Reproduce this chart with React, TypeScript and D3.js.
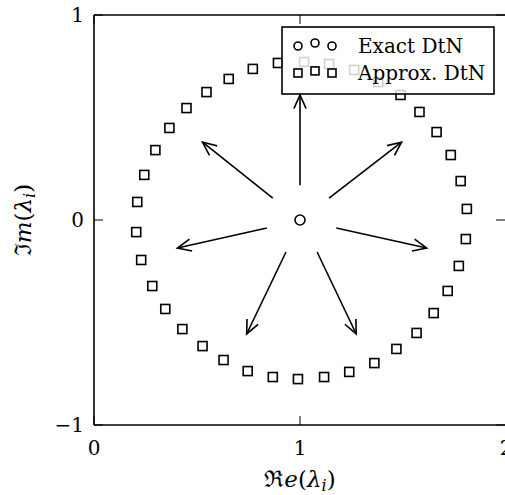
import React from "react";
import * as d3 from "d3";

const approxRe = [0.893, 0.771, 0.654, 0.546, 0.449, 0.366, 0.298, 0.244, 0.21, 0.205, 0.229, 0.283, 0.346, 0.429, 0.527, 0.629, 0.746, 0.868, 0.99, 1.117, 1.239, 1.361, 1.468, 1.566, 1.649, 1.717, 1.771, 1.805, 1.81, 1.78, 1.732, 1.663, 1.58, 1.488, 1.38, 1.263, 1.141, 1.02];
const approxIm = [0.766, 0.737, 0.688, 0.624, 0.546, 0.449, 0.341, 0.22, 0.088, -0.059, -0.195, -0.322, -0.434, -0.532, -0.615, -0.683, -0.737, -0.766, -0.776, -0.766, -0.741, -0.698, -0.629, -0.551, -0.454, -0.346, -0.224, -0.093, 0.054, 0.19, 0.317, 0.429, 0.527, 0.61, 0.673, 0.732, 0.761, 0.771];
const exactRe = [1.0];
const exactIm = [0.0];
const arrowFromRe = [1.0, 1.141, 1.176, 1.083, 0.932, 0.839, 0.868];
const arrowFromIm = [0.17, 0.107, -0.039, -0.156, -0.156, -0.039, 0.107];
const arrowToRe = [1.0, 1.493, 1.615, 1.273, 0.741, 0.405, 0.527];
const arrowToIm = [0.61, 0.38, -0.137, -0.556, -0.556, -0.137, 0.38];
const xTicks = [0, 1, 2];
const yTicks = [-1, 0, 1];
const legendLabels = ["Exact DtN", "Approx. DtN"];

const W = 505, H = 495;
const FONT = "'DejaVu Serif', serif";

export default function App() {
  const x = d3.scaleLinear().domain([0, 2]).range([94, 506]);
  const y = d3.scaleLinear().domain([-1, 1]).range([425, 15]);
  const sq = 9;
  const fmt = (v: number) => (v < 0 ? "\u2212" + Math.abs(v) : String(v));

  const arrows = arrowFromRe.map((_, i) => {
    const x1 = x(arrowFromRe[i]), y1 = y(arrowFromIm[i]);
    const x2 = x(arrowToRe[i]), y2 = y(arrowToIm[i]);
    const ang = Math.atan2(y2 - y1, x2 - x1);
    const L = 15, a = 0.42;
    const h1 = [x2 - L * Math.cos(ang - a), y2 - L * Math.sin(ang - a)];
    const h2 = [x2 - L * Math.cos(ang + a), y2 - L * Math.sin(ang + a)];
    return { x1, y1, x2, y2, h1, h2 };
  });

  const legX = 282, legY = 27, legW = 212, legH = 67;
  const mk = [298, 315, 332];
  const mkDy = [0, -3, 0];

  return (
    <svg width={W} height={H} style={{ position: "absolute", left: 0, top: 0, background: "#fff" }} fontFamily={FONT}>
      <rect width={W} height={H} fill="#fff" />
      {/* axes box */}
      <line x1={x(0)} x2={x(0)} y1={y(-1)} y2={y(1)} stroke="#000" strokeWidth={1.6} />
      <line x1={x(0)} x2={x(2)} y1={y(-1)} y2={y(-1)} stroke="#000" strokeWidth={1.6} />
      <line x1={x(0)} x2={x(2)} y1={y(1)} y2={y(1)} stroke="#000" strokeWidth={1.6} />
      <line x1={x(2)} x2={x(2)} y1={y(-1)} y2={y(1)} stroke="#000" strokeWidth={1.6} />
      {/* ticks */}
      {xTicks.map((t) => (
        <g key={"xt" + t}>
          <line x1={x(t)} x2={x(t)} y1={y(-1)} y2={y(-1) - 9} stroke="#000" strokeWidth={1} />
          <line x1={x(t)} x2={x(t)} y1={y(1)} y2={y(1) + 9} stroke="#000" strokeWidth={1} />
          <text x={x(t)} y={455} textAnchor="middle" fontSize={20}>{fmt(t)}</text>
        </g>
      ))}
      {yTicks.map((t) => (
        <g key={"yt" + t}>
          <line x1={x(0)} x2={x(0) + 9} y1={y(t)} y2={y(t)} stroke="#000" strokeWidth={1} />
          <line x1={x(2)} x2={x(2) - 10} y1={y(t)} y2={y(t)} stroke="#000" strokeWidth={1} />
          <text x={84} y={y(t) + 7} textAnchor="end" fontSize={20}>{fmt(t)}</text>
        </g>
      ))}
      {/* approx squares */}
      {approxRe.map((r, i) => (
        <rect key={"s" + i} x={x(r) - sq / 2} y={y(approxIm[i]) - sq / 2} width={sq} height={sq} fill="none" stroke="#000" strokeWidth={1.6} />
      ))}
      {/* exact circles */}
      {exactRe.map((r, i) => (
        <circle key={"c" + i} cx={x(r)} cy={y(exactIm[i])} r={5} fill="none" stroke="#000" strokeWidth={1.6} />
      ))}
      {/* arrows */}
      {arrows.map((a, i) => (
        <g key={"a" + i} stroke="#000" strokeWidth={1.6} fill="none">
          <line x1={a.x1} y1={a.y1} x2={a.x2} y2={a.y2} />
          <polyline points={`${a.h1[0]},${a.h1[1]} ${a.x2},${a.y2} ${a.h2[0]},${a.h2[1]}`} />
        </g>
      ))}
      {/* legend */}
      <rect x={legX} y={legY} width={legW} height={legH} fill="#fff" fillOpacity={0.82} stroke="#000" strokeWidth={1.6} />
      {mk.map((m, i) => (
        <circle key={"lc" + i} cx={m} cy={46 + mkDy[i]} r={4} fill="none" stroke="#000" strokeWidth={1.6} />
      ))}
      {mk.map((m, i) => (
        <rect key={"ls" + i} x={m - 4} y={73 + mkDy[i] * 0.7 - 4} width={8} height={8} fill="none" stroke="#000" strokeWidth={1.6} />
      ))}
      <text x={358} y={53} fontSize={20}>{legendLabels[0]}</text>
      <text x={358} y={80} fontSize={20}>{legendLabels[1]}</text>
      {/* axis labels */}
      <text x={x(1)} y={487} textAnchor="middle" fontSize={23}>
        <tspan>{"\u211C"}</tspan>
        <tspan fontStyle="italic">e</tspan>
        <tspan>(</tspan>
        <tspan fontStyle="italic">{"\u03BB"}</tspan>
        <tspan fontStyle="italic" fontSize={16} dy={4}>i</tspan>
        <tspan dy={-4}>)</tspan>
      </text>
      <text transform={`translate(31, ${y(0)}) rotate(-90)`} textAnchor="middle" fontSize={23}>
        <tspan>{"\u2111"}</tspan>
        <tspan fontStyle="italic">m</tspan>
        <tspan>(</tspan>
        <tspan fontStyle="italic">{"\u03BB"}</tspan>
        <tspan fontStyle="italic" fontSize={16} dy={4}>i</tspan>
        <tspan dy={-4}>)</tspan>
      </text>
    </svg>
  );
}
